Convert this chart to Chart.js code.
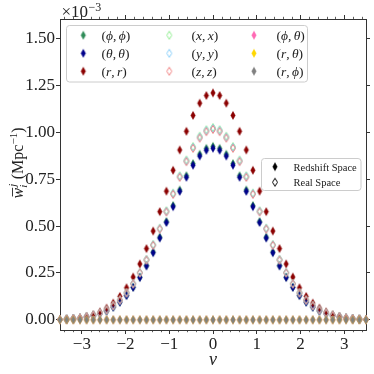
<!DOCTYPE html>
<html><head><meta charset="utf-8">
<script src="https://cdn.jsdelivr.net/npm/chart.js@4.4.0/dist/chart.umd.min.js"></script>
<style>html,body{margin:0;padding:0;background:#fff;}canvas{display:block;}</style>
</head><body>
<canvas id="c" width="374" height="374"></canvas>
<script>
// ---------- data (values in units of 1e-3 Mpc^-1) ----------
const nu = [-3.5,-3.3478,-3.1957,-3.0435,-2.8913,-2.7391,-2.587,-2.4348,-2.2826,-2.1304,-1.9783,-1.8261,-1.6739,-1.5217,-1.3696,-1.2174,-1.0652,-0.913,-0.7609,-0.6087,-0.4565,-0.3043,-0.1522,0,0.1522,0.3043,0.4565,0.6087,0.7609,0.913,1.0652,1.2174,1.3696,1.5217,1.6739,1.8261,1.9783,2.1304,2.2826,2.4348,2.587,2.7391,2.8913,3.0435,3.1957,3.3478,3.5];

const seriesLabels = ['(ϕ, ϕ)','(θ, θ)','(r, r)','(x, x)','(y, y)','(z, z)','(ϕ, θ)','(r, θ)','(r, ϕ)'];

const phiphi = [0.0020,0.0034,0.0056,0.0090,0.0142,0.0217,0.0326,0.0477,0.0684,0.0956,0.1307,0.1746,0.2279,0.2905,0.3620,0.4409,0.5245,0.6098,0.6925,0.7686,0.8334,0.8832,0.9144,0.9250,0.9144,0.8832,0.8334,0.7686,0.6925,0.6098,0.5245,0.4409,0.3620,0.2905,0.2279,0.1746,0.1307,0.0956,0.0684,0.0477,0.0326,0.0217,0.0142,0.0090,0.0056,0.0034,0.0020];
const thetatheta = [0.0020,0.0034,0.0056,0.0089,0.0140,0.0215,0.0322,0.0472,0.0676,0.0946,0.1293,0.1728,0.2255,0.2874,0.3581,0.4362,0.5188,0.6032,0.6851,0.7603,0.8244,0.8736,0.9045,0.9150,0.9045,0.8736,0.8244,0.7603,0.6851,0.6032,0.5188,0.4362,0.3581,0.2874,0.2255,0.1728,0.1293,0.0946,0.0676,0.0472,0.0322,0.0215,0.0140,0.0089,0.0056,0.0034,0.0020];
const rr = [0.0026,0.0045,0.0073,0.0118,0.0185,0.0284,0.0426,0.0625,0.0894,0.1251,0.1710,0.2284,0.2981,0.3801,0.4736,0.5768,0.6861,0.7976,0.9059,1.0054,1.0902,1.1553,1.1961,1.2100,1.1961,1.1553,1.0902,1.0054,0.9059,0.7976,0.6861,0.5768,0.4736,0.3801,0.2981,0.2284,0.1710,0.1251,0.0894,0.0625,0.0426,0.0284,0.0185,0.0118,0.0073,0.0045,0.0026];
const xx = [0.0022,0.0038,0.0062,0.0100,0.0157,0.0241,0.0361,0.0529,0.0758,0.1060,0.1448,0.1935,0.2526,0.3220,0.4012,0.4886,0.5812,0.6757,0.7674,0.8517,0.9235,0.9787,1.0132,1.0250,1.0132,0.9787,0.9235,0.8517,0.7674,0.6757,0.5812,0.4886,0.4012,0.3220,0.2526,0.1935,0.1448,0.1060,0.0758,0.0529,0.0361,0.0241,0.0157,0.0100,0.0062,0.0038,0.0022];
const yy = [0.0022,0.0038,0.0062,0.0099,0.0156,0.0240,0.0359,0.0527,0.0754,0.1055,0.1441,0.1926,0.2513,0.3204,0.3992,0.4862,0.5783,0.6724,0.7637,0.8475,0.9190,0.9739,1.0083,1.0200,1.0083,0.9739,0.9190,0.8475,0.7637,0.6724,0.5783,0.4862,0.3992,0.3204,0.2513,0.1926,0.1441,0.1055,0.0754,0.0527,0.0359,0.0240,0.0156,0.0099,0.0062,0.0038,0.0022];
const zz = [0.0022,0.0037,0.0062,0.0099,0.0155,0.0238,0.0357,0.0524,0.0750,0.1050,0.1434,0.1916,0.2501,0.3188,0.3973,0.4839,0.5755,0.6691,0.7599,0.8434,0.9145,0.9691,1.0033,1.0150,1.0033,0.9691,0.9145,0.8434,0.7599,0.6691,0.5755,0.4839,0.3973,0.3188,0.2501,0.1916,0.1434,0.1050,0.0750,0.0524,0.0357,0.0238,0.0155,0.0099,0.0062,0.0037,0.0022];
const phitheta = [0,0,0,0,0,0,0,0,0,0,0,0,0,0,0,0,0,0,0,0,0,0,0,0,0,0,0,0,0,0,0,0,0,0,0,0,0,0,0,0,0,0,0,0,0,0,0];
const rtheta   = [0,0,0,0,0,0,0,0,0,0,0,0,0,0,0,0,0,0,0,0,0,0,0,0,0,0,0,0,0,0,0,0,0,0,0,0,0,0,0,0,0,0,0,0,0,0,0];
const rphi     = [0,0,0,0,0,0,0,0,0,0,0,0,0,0,0,0,0,0,0,0,0,0,0,0,0,0,0,0,0,0,0,0,0,0,0,0,0,0,0,0,0,0,0,0,0,0,0];

const xTicks = [-3,-2,-1,0,1,2,3];
const xTickLabels = ['−3','−2','−1','0','1','2','3'];
const xMinorTicks = [-3.4,-3.2,-2.8,-2.6,-2.4,-2.2,-1.8,-1.6,-1.4,-1.2,-0.8,-0.6,-0.4,-0.2,0.2,0.4,0.6,0.8,1.2,1.4,1.6,1.8,2.2,2.4,2.6,2.8,3.2,3.4];
const yTicks = [0,0.25,0.5,0.75,1.0,1.25,1.5];
const yTickLabels = ['0.00','0.25','0.50','0.75','1.00','1.25','1.50'];
const spaceLabels = ['Redshift Space','Real Space'];

// ---------- styling ----------
const SERIF = '"Liberation Serif", "DejaVu Serif", serif';
const AXC = '#333333';
const seriesStyles = [
  {c:'#2e8b57', filled:true},
  {c:'#00008b', filled:true},
  {c:'#8b0000', filled:true},
  {c:'#90ee90', filled:false},
  {c:'#87cefa', filled:false},
  {c:'#f08080', filled:false},
  {c:'#ff69b4', filled:true},
  {c:'#ffd700', filled:true},
  {c:'#808080', filled:true}
];
function diamond(color, filled){
  const c = document.createElement('canvas'); c.width = 8; c.height = 11;
  const g = c.getContext('2d');
  const cx = 4, cy = 5.5, hw = filled ? 2.2 : 2.5, hh = filled ? 3.9 : 4.0;
  g.beginPath(); g.moveTo(cx, cy-hh); g.lineTo(cx+hw, cy); g.lineTo(cx, cy+hh); g.lineTo(cx-hw, cy); g.closePath();
  if (filled) { g.fillStyle = color; g.fill(); g.strokeStyle = color; g.lineWidth = 0.6; g.stroke(); }
  else { g.strokeStyle = color; g.lineWidth = 1.0; g.stroke(); }
  return c;
}
const seriesData = [phiphi, thetatheta, rr, xx, yy, zz, phitheta, rtheta, rphi];
const n = seriesData.length;
const datasets = seriesData.map((arr, i) => ({
  label: seriesLabels[i],
  data: arr.map((v, k) => ({x: nu[k], y: v})),
  pointStyle: diamond(seriesStyles[i].c, seriesStyles[i].filled),
  pointRadius: 4, pointHoverRadius: 4,
  showLine: false, clip: false,
  order: n - 1 - i
}));

function drawMath(ctx, str, x, y, size){
  let cx = x;
  for (const ch of str){
    if (ch === ' ') { cx += size*0.17; continue; }
    const it = /[a-zA-Zα-ωϕ]/.test(ch);
    ctx.font = (it ? 'italic ' : '') + size + 'px ' + SERIF;
    ctx.fillText(ch, cx, y);
    cx += ctx.measureText(ch).width;
  }
}
function rrect(ctx, x, y, w, h, r){
  ctx.beginPath();
  ctx.moveTo(x+r, y); ctx.lineTo(x+w-r, y); ctx.quadraticCurveTo(x+w, y, x+w, y+r);
  ctx.lineTo(x+w, y+h-r); ctx.quadraticCurveTo(x+w, y+h, x+w-r, y+h);
  ctx.lineTo(x+r, y+h); ctx.quadraticCurveTo(x, y+h, x, y+h-r);
  ctx.lineTo(x, y+r); ctx.quadraticCurveTo(x, y, x+r, y); ctx.closePath();
}

const deco = {
  id: 'deco',
  afterDraw(chart){
    const ctx = chart.ctx, xs = chart.scales.x, area = chart.chartArea;
    ctx.save();
    // minor x ticks (top & bottom, outward)
    ctx.strokeStyle = AXC; ctx.lineWidth = 0.8;
    xMinorTicks.forEach(v => {
      const px = Math.round(xs.getPixelForValue(v)) + 0.5;
      ctx.beginPath();
      ctx.moveTo(px, area.bottom); ctx.lineTo(px, area.bottom + 2.2);
      ctx.moveTo(px, area.top); ctx.lineTo(px, area.top - 2.2);
      ctx.stroke();
    });
    ctx.fillStyle = '#222';
    ctx.textBaseline = 'alphabetic'; ctx.textAlign = 'left';
    // offset text
    ctx.font = '17px ' + SERIF;
    ctx.fillText('×10', 61.5, 16.7);
    const w10 = ctx.measureText('×10').width;
    ctx.font = '12px ' + SERIF;
    ctx.fillText('−3', 61.5 + w10 + 0.5, 10.5);
    // x title
    ctx.font = 'italic 18px ' + SERIF; ctx.textAlign = 'center';
    ctx.fillText('ν', (area.left + area.right)/2, 365);
    ctx.textAlign = 'left';
    // y title (rotated)
    ctx.save();
    ctx.translate(23, 163); ctx.rotate(-Math.PI/2);
    const big = 16, small = 11, gap = 4.5;
    ctx.font = 'italic ' + big + 'px ' + SERIF; const ww = ctx.measureText('w').width;
    ctx.font = 'italic ' + small + 'px ' + SERIF; const wsub = Math.max(ctx.measureText('i').width, ctx.measureText('j').width);
    ctx.font = big + 'px ' + SERIF; const wop = ctx.measureText('(Mpc').width; const wcl = ctx.measureText(')').width;
    ctx.font = small + 'px ' + SERIF; const wm1 = ctx.measureText('−1').width;
    const total = ww + 1 + wsub + gap + wop + wm1 + wcl;
    let cx = -total/2;
    ctx.font = 'italic ' + big + 'px ' + SERIF; ctx.fillText('w', cx, 0);
    ctx.strokeStyle = '#222'; ctx.lineWidth = 0.9;
    ctx.beginPath(); ctx.moveTo(cx + 2, -10.5); ctx.lineTo(cx + ww, -10.5); ctx.stroke();
    cx += ww + 1;
    ctx.font = 'italic ' + small + 'px ' + SERIF;
    ctx.fillText('i', cx - 1, 3.5);
    ctx.fillText('j', cx, -7);
    cx += wsub + gap;
    ctx.font = big + 'px ' + SERIF; ctx.fillText('(Mpc', cx, 0); cx += wop;
    ctx.font = small + 'px ' + SERIF; ctx.fillText('−1', cx, -6.5); cx += wm1;
    ctx.font = big + 'px ' + SERIF; ctx.fillText(')', cx, 0);
    ctx.restore();

    // main legend
    ctx.fillStyle = 'rgba(255,255,255,0.8)'; ctx.strokeStyle = '#cccccc'; ctx.lineWidth = 1;
    rrect(ctx, 66.5, 25.5, 241, 56.5, 3); ctx.fill(); ctx.stroke();
    const colM = [83.3, 169.3, 254], colL = [101.5, 191.5, 276.5], rowY = [35.2, 53.3, 71.2];
    chart.data.datasets.forEach((ds, i) => {
      const col = Math.floor(i/3), row = i % 3;
      const img = ds.pointStyle;
      ctx.drawImage(img, colM[col] - img.width/2, rowY[row] - img.height/2);
      ctx.fillStyle = '#222';
      drawMath(ctx, ds.label, colL[col], rowY[row] + 4.5, 13.5);
    });
    // space legend
    ctx.fillStyle = 'rgba(255,255,255,0.8)'; ctx.strokeStyle = '#cccccc';
    rrect(ctx, 261.5, 158.5, 99.5, 32, 3); ctx.fill(); ctx.stroke();
    const k1 = diamond('#000000', true), k2 = diamond('#000000', false);
    ctx.drawImage(k1, 275 - k1.width/2, 166.7 - k1.height/2);
    ctx.drawImage(k2, 275 - k2.width/2, 182.2 - k2.height/2);
    ctx.fillStyle = '#222'; ctx.font = '10.5px ' + SERIF;
    ctx.fillText(spaceLabels[0], 293.5, 171);
    ctx.fillText(spaceLabels[1], 293.5, 185.7);
    ctx.restore();
  }
};

const tickFont = {family: SERIF, size: 17};
const gridOpt = {drawOnChartArea: false, drawTicks: true, tickLength: 4, tickColor: AXC, tickWidth: 1};
const borderOpt = {display: true, color: AXC, width: 1};

new Chart(document.getElementById('c'), {
  type: 'scatter',
  data: {datasets},
  options: {
    responsive: false, animation: false, devicePixelRatio: 1, events: [],
    layout: {padding: 0},
    plugins: {legend: {display: false}, tooltip: {enabled: false}},
    scales: {
      x: {type: 'linear', position: 'bottom', min: -3.5, max: 3.5,
        afterBuildTicks: s => { s.ticks = xTicks.map(v => ({value: v})); },
        afterFit: s => { s.height = 44; },
        ticks: {font: tickFont, color: '#222', padding: 0, maxRotation: 0, autoSkip: false,
          callback: v => xTickLabels[xTicks.indexOf(v)]},
        grid: gridOpt, border: borderOpt},
      x2: {type: 'linear', position: 'top', min: -3.5, max: 3.5,
        afterBuildTicks: s => { s.ticks = xTicks.map(v => ({value: v})); },
        afterFit: s => { s.height = 19; },
        ticks: {display: false}, grid: gridOpt, border: borderOpt},
      y: {type: 'linear', position: 'left', min: -0.054, max: 1.604,
        afterBuildTicks: s => { s.ticks = yTicks.map(v => ({value: v})); },
        afterFit: s => { s.width = 60; },
        ticks: {font: tickFont, color: '#222', padding: 1, autoSkip: false,
          callback: v => yTickLabels[yTicks.indexOf(v)]},
        grid: gridOpt, border: borderOpt},
      y2: {type: 'linear', position: 'right', min: -0.054, max: 1.604,
        afterBuildTicks: s => { s.ticks = yTicks.map(v => ({value: v})); },
        afterFit: s => { s.width = 8; },
        ticks: {display: false}, grid: gridOpt, border: borderOpt}
    }
  },
  plugins: [deco]
});
</script>
</body></html>
